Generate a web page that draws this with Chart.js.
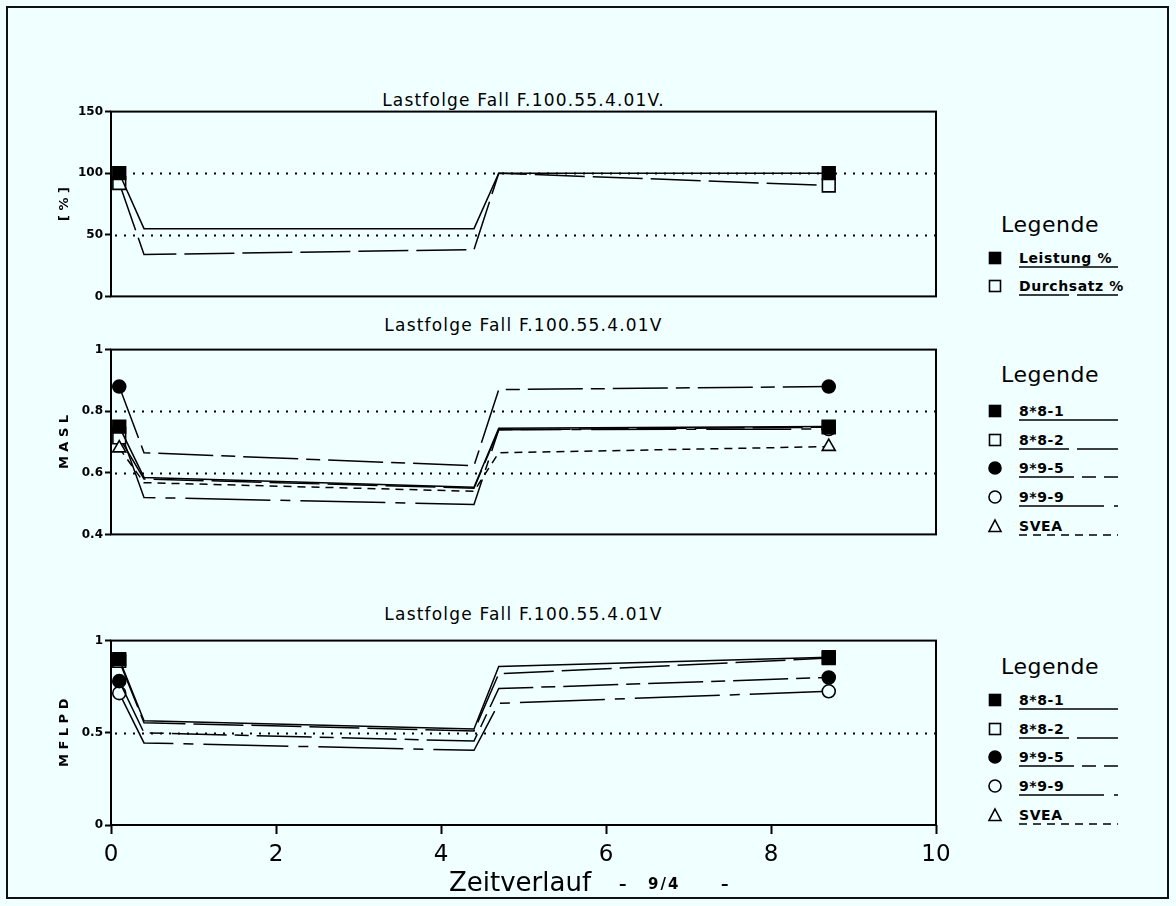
<!DOCTYPE html>
<html>
<head>
<meta charset="utf-8">
<script src="https://cdn.jsdelivr.net/npm/chart.js@4/dist/chart.umd.min.js"></script>
<style>
  html, body { margin: 0; padding: 0; background: #f0ffff; }
  #page { position: relative; width: 1176px; height: 906px; background: #f0ffff; overflow: hidden;
          font-family: "DejaVu Sans", sans-serif; color: #000; }
  #frame { position: absolute; left: 6px; top: 6px; width: 1163px; height: 893px;
           border: 2px solid #111; box-sizing: border-box; }
  canvas.cv { position: absolute; left: 40px; }
  .ptitle { position: absolute; left: 111px; width: 825px; text-align: center; font-size: 17px;
            letter-spacing: 1.2px; line-height: 20px; }
  .leghead { position: absolute; left: 975px; width: 150px; text-align: center; font-size: 22px;
             line-height: 26px; letter-spacing: 0.5px; }
  .legtext { position: absolute; left: 1019px; font-weight: bold; font-size: 14px; line-height: 18px;
             letter-spacing: 0.6px; white-space: pre; }
  .legsvg { position: absolute; overflow: visible; }
  #xlabel { position: absolute; left: 449px; top: 867px; font-size: 26px; line-height: 30px; }
  .xsub { position: absolute; top: 875px; font-size: 15px; font-weight: bold; line-height: 18px;
          letter-spacing: 2px; }
</style>
</head>
<body>
<div id="page">
  <div id="frame"></div>

  <div class="ptitle" style="top:90px">Lastfolge Fall F.100.55.4.01V.</div>
  <div class="ptitle" style="top:315px">Lastfolge Fall F.100.55.4.01V</div>
  <div class="ptitle" style="top:604px">Lastfolge Fall F.100.55.4.01V</div>

  <canvas id="c1" class="cv" width="920" height="206" style="top:101px"></canvas>
  <canvas id="c2" class="cv" width="920" height="206" style="top:339px"></canvas>
  <canvas id="c3" class="cv" width="920" height="250" style="top:630px"></canvas>

  <div id="legends"></div>

  <div id="xlabel">Zeitverlauf</div>
  <div class="xsub" style="left:619px">–</div>
  <div class="xsub" style="left:648px">9/4</div>
  <div class="xsub" style="left:721px">–</div>
</div>

<script>
// ---- time axis (shared by all three panels) ----
const timePoints = [0.1, 0.4, 4.4, 4.7, 8.7];
const xTicks = [0, 2, 4, 6, 8, 10];

// ---- panel 1: power and flow in percent ----
const leistung  = [100, 55, 55, 100, 100];
const durchsatz = [92, 34, 38, 100, 90];
const yTicks1   = [0, 50, 100, 150];
const refLines1 = [50, 100];

// ---- panel 2: MASL ----
const masl881  = [0.75, 0.585, 0.553, 0.745, 0.75];
const masl882  = [0.715, 0.58, 0.55, 0.74, 0.748];
const masl995  = [0.88, 0.665, 0.623, 0.87, 0.88];
const masl999  = [0.745, 0.52, 0.497, 0.74, 0.742];
const maslSvea = [0.68, 0.568, 0.54, 0.665, 0.685];
const yTicks2   = [0.4, 0.6, 0.8, 1];
const refLines2 = [0.6, 0.8];

// ---- panel 3: MFLPD ----
const mflpd881 = [0.90, 0.565, 0.52, 0.86, 0.91];
const mflpd882 = [0.89, 0.555, 0.51, 0.82, 0.905];
const mflpd995 = [0.78, 0.50, 0.455, 0.74, 0.80];
const mflpd999 = [0.715, 0.445, 0.405, 0.66, 0.725];
const yTicks3   = [0, 0.5, 1];
const refLines3 = [0.5];

// ---- legend labels ----
const legendLabels1 = ['Leistung %', 'Durchsatz %'];
const legendLabels2 = ['8*8-1', '8*8-2', '9*9-5', '9*9-9', 'SVEA'];

// ---- line and marker styles per series ----
const BG = '#f0ffff';
const styles = {
  leistung:  { dash: [],               marker: 'rect',     filled: true,  r: 9 },
  durchsatz: { dash: [50, 8],          marker: 'rect',     filled: false, r: 9 },
  s881:      { dash: [],               marker: 'rect',     filled: true,  r: 9 },
  s882:      { dash: [50, 8],          marker: 'rect',     filled: false, r: 9 },
  s995:      { dash: [55, 8, 14, 8],   marker: 'circle',   filled: true,  r: 6.5 },
  s999:      { dash: [85, 10, 10, 10], marker: 'circle',   filled: false, r: 6.5 },
  svea:      { dash: [8, 6],           marker: 'triangle', filled: false, r: 7.5 }
};

function series(label, values, st) {
  const last = values.length - 1;
  return {
    label,
    data: values.map((v, i) => ({ x: timePoints[i], y: v })),
    borderColor: '#000',
    borderWidth: 1.5,
    borderDash: st.dash,
    tension: 0,
    fill: false,
    clip: false,
    pointStyle: st.marker,
    pointRadius: ctx => (ctx.dataIndex === 0 || ctx.dataIndex === last) ? st.r : 0,
    pointHoverRadius: 0,
    pointBackgroundColor: st.filled ? '#000' : BG,
    pointBorderColor: '#000',
    pointBorderWidth: 1.6
  };
}

// frame around each plot area plus dotted reference levels
const panelFrame = {
  id: 'panelFrame',
  beforeDatasetsDraw(chart, args, opts) {
    const { ctx, chartArea: a, scales: { y } } = chart;
    ctx.save();
    ctx.strokeStyle = '#000';
    ctx.lineWidth = 2;
    ctx.setLineDash([2, 7]);
    (opts.refLines || []).forEach(v => {
      const py = Math.round(y.getPixelForValue(v)) + 0.5;
      ctx.beginPath();
      ctx.moveTo(a.left + 4, py);
      ctx.lineTo(a.right, py);
      ctx.stroke();
    });
    ctx.setLineDash([]);
    ctx.lineWidth = 2;
    ctx.strokeRect(a.left, a.top, a.right - a.left, a.bottom - a.top);
    ctx.restore();
  }
};

function yFmt(v) { return String(v); }

function makeChart(id, datasets, yMin, yMax, yTicks, yTitle, refLines, showX) {
  return new Chart(document.getElementById(id), {
    type: 'line',
    data: { datasets },
    options: {
      responsive: false,
      animation: false,
      events: [],
      layout: { padding: { top: 10, bottom: 10, left: 0, right: 24 } },
      plugins: {
        legend: { display: false },
        tooltip: { enabled: false },
        panelFrame: { refLines }
      },
      scales: {
        x: {
          type: 'linear',
          min: 0, max: 10,
          display: showX,
          afterBuildTicks: s => { s.ticks = xTicks.map(v => ({ value: v })); },
          afterFit: s => { s.height = showX ? 45 : 0; },
          border: { display: false },
          grid: { display: true, drawOnChartArea: false, drawTicks: true, tickLength: 9,
                  tickColor: '#000', tickWidth: 2 },
          ticks: { color: '#000', padding: 7, maxRotation: 0,
                   font: { family: 'DejaVu Sans', size: 23 } }
        },
        y: {
          type: 'linear',
          min: yMin, max: yMax,
          afterBuildTicks: s => { s.ticks = yTicks.map(v => ({ value: v })); },
          afterFit: s => { s.width = 71; },
          border: { display: false },
          grid: { display: true, drawOnChartArea: false, drawTicks: true, tickLength: 6,
                  tickColor: '#000', tickWidth: 2 },
          ticks: { color: '#000', padding: 2, callback: yFmt,
                   font: { family: 'DejaVu Sans', size: 12, weight: 'bold' } },
          title: { display: true, text: yTitle, color: '#000', padding: { top: 17, bottom: 0 },
                   font: { family: 'DejaVu Sans', size: 13, weight: 'bold' } }
        }
      }
    },
    plugins: [panelFrame]
  });
}

makeChart('c1', [
  series('Leistung %', leistung, styles.leistung),
  series('Durchsatz %', durchsatz, styles.durchsatz)
], 0, 150, yTicks1, '[ % ]', refLines1, false);

makeChart('c2', [
  series('8*8-1', masl881, styles.s881),
  series('9*9-5', masl995, styles.s995),
  series('SVEA', maslSvea, styles.svea),
  series('8*8-2', masl882, styles.s882),
  series('9*9-9', masl999, styles.s999)
], 0.4, 1, yTicks2, 'M A S L', refLines2, false);

makeChart('c3', [
  series('8*8-1', mflpd881, styles.s881),
  series('9*9-5', mflpd995, styles.s995),
  series('9*9-9', mflpd999, styles.s999),
  series('8*8-2', mflpd882, styles.s882)
], 0, 1, yTicks3, 'M F L P D', refLines3, true);

// ---- legends on the right ----
const SVGNS = 'http://www.w3.org/2000/svg';
function svgEl(tag, attrs) {
  const e = document.createElementNS(SVGNS, tag);
  Object.entries(attrs).forEach(([k, v]) => e.setAttribute(k, v));
  return e;
}
function markerSvg(st, cx, cy) {
  const svg = svgEl('svg', { width: 16, height: 16, class: 'legsvg' });
  svg.style.left = (cx - 8) + 'px';
  svg.style.top = (cy - 8) + 'px';
  const fill = st.filled ? '#000' : 'none';
  let shape;
  if (st.marker === 'rect') shape = svgEl('rect', { x: 2.5, y: 2.5, width: 11, height: 11 });
  else if (st.marker === 'circle') shape = svgEl('circle', { cx: 8, cy: 8, r: 6 });
  else shape = svgEl('polygon', { points: '8,2 14,13.5 2,13.5' });
  shape.setAttribute('fill', fill);
  shape.setAttribute('stroke', '#000');
  shape.setAttribute('stroke-width', 1.6);
  svg.appendChild(shape);
  return svg;
}
function lineSvg(st, x0, x1, y) {
  const svg = svgEl('svg', { width: x1 - x0, height: 4, class: 'legsvg' });
  svg.style.left = x0 + 'px';
  svg.style.top = (y - 2) + 'px';
  const ln = svgEl('line', { x1: 0, y1: 2, x2: x1 - x0, y2: 2, stroke: '#000', 'stroke-width': 1.6 });
  if (st.dash.length) ln.setAttribute('stroke-dasharray', st.dash.join(' '));
  svg.appendChild(ln);
  return svg;
}
function makeLegend(headY, firstRowY, rowStep, labels, styleList) {
  const host = document.getElementById('legends');
  const head = document.createElement('div');
  head.className = 'leghead';
  head.textContent = 'Legende';
  head.style.top = (headY - 13) + 'px';
  host.appendChild(head);
  labels.forEach((lab, i) => {
    const cy = firstRowY + i * rowStep;
    host.appendChild(markerSvg(styleList[i], 995, cy));
    const t = document.createElement('div');
    t.className = 'legtext';
    t.textContent = lab;
    t.style.top = (cy - 9) + 'px';
    host.appendChild(t);
    host.appendChild(lineSvg(styleList[i], 1019, 1118, cy + 9));
  });
}
const legendStyles2 = [styles.s881, styles.s882, styles.s995, styles.s999, styles.svea];
makeLegend(225, 258, 28, legendLabels1, [styles.leistung, styles.durchsatz]);
makeLegend(375, 411, 28.7, legendLabels2, legendStyles2);
makeLegend(667, 700, 28.7, legendLabels2, legendStyles2);
</script>
</body>
</html>
